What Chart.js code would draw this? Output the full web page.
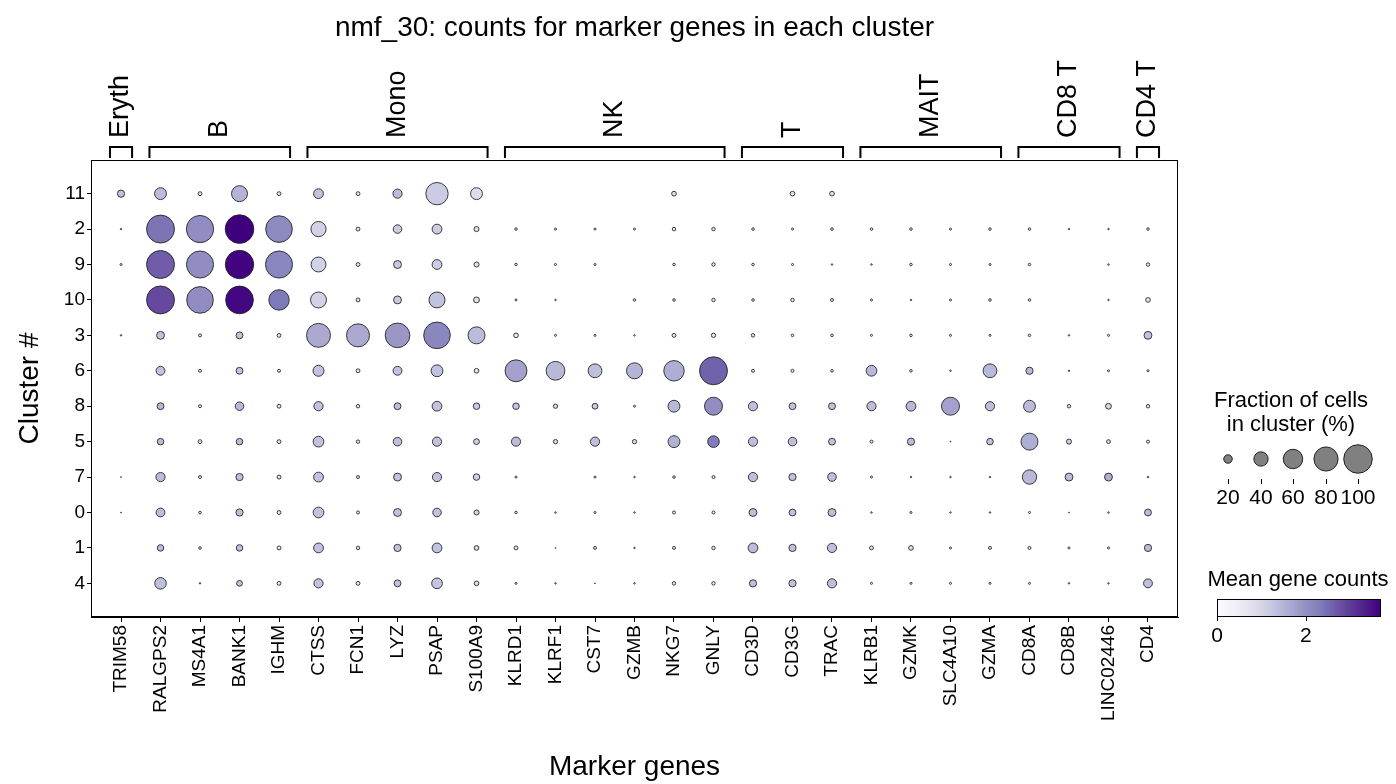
<!DOCTYPE html>
<html>
<head>
<meta charset="utf-8">
<script src="https://cdn.jsdelivr.net/npm/chart.js@4.4.1/dist/chart.umd.min.js"></script>
<style>
  body { margin: 0; background: #fff; }
  canvas { display: block; }
</style>
</head>
<body>
<canvas id="dotplot" width="1396" height="784"></canvas>
<script>
const genes = ['TRIM58', 'RALGPS2', 'MS4A1', 'BANK1', 'IGHM', 'CTSS', 'FCN1', 'LYZ', 'PSAP', 'S100A9',
    'KLRD1', 'KLRF1', 'CST7', 'GZMB', 'NKG7', 'GNLY', 'CD3D', 'CD3G', 'TRAC', 'KLRB1', 'GZMK',
    'SLC4A10', 'GZMA', 'CD8A', 'CD8B', 'LINC02446', 'CD4'];
const clusters = ['11', '2', '9', '10', '3', '6', '8', '5', '7', '0', '1', '4'];

// cell type groups shown as brackets above the genes: [label, first gene, last gene]
const groupNames = ['Eryth', 'B', 'Mono', 'NK', 'T', 'MAIT', 'CD8 T', 'CD4 T'];
const groupStart = [0, 1, 5, 10, 16, 19, 23, 26];
const groupEnd = [0, 4, 9, 15, 18, 22, 25, 26];

// fraction of cells (%) expressing each gene, one row per cluster (same order as clusters)
const fracPct = [
    [16, 31, 7, 46, 7, 24, 7, 22, 72, 31, 0, 0, 0, 0, 9, 0, 0, 9, 9, 0, 0, 0, 0, 0, 0, 0, 0],
    [2, 97, 94, 100, 91, 43, 7, 20, 24, 10, 4, 3, 3, 3, 6, 6, 4, 3, 4, 4, 4, 3, 4, 4, 2, 2, 4],
    [3, 97, 93, 99, 93, 42, 7, 18, 24, 10, 4, 3, 3, 0, 4, 6, 4, 3, 2, 2, 4, 3, 3, 4, 0, 2, 6],
    [0, 97, 91, 96, 64, 46, 7, 18, 46, 12, 3, 2, 0, 4, 4, 6, 4, 6, 5, 3, 2, 3, 4, 4, 0, 2, 9],
    [2, 18, 5, 15, 7, 79, 75, 82, 91, 50, 9, 3, 3, 2, 7, 8, 6, 4, 4, 3, 4, 3, 3, 4, 2, 3, 18],
    [0, 21, 5, 15, 5, 28, 7, 21, 31, 9, 70, 57, 38, 46, 64, 97, 5, 5, 4, 27, 4, 2, 38, 16, 2, 3, 3],
    [0, 15, 5, 20, 7, 22, 6, 15, 24, 14, 14, 8, 12, 3, 31, 54, 22, 15, 15, 22, 24, 54, 22, 31, 6, 12, 6],
    [0, 14, 7, 14, 7, 27, 6, 20, 22, 12, 22, 8, 22, 8, 31, 30, 22, 20, 15, 5, 16, 1, 14, 50, 10, 7, 5],
    [1, 22, 5, 16, 7, 24, 5, 18, 22, 14, 3, 0, 3, 2, 4, 5, 22, 16, 20, 3, 2, 2, 2, 40, 18, 18, 2],
    [1, 21, 4, 16, 7, 27, 5, 18, 20, 10, 4, 2, 3, 2, 5, 5, 18, 15, 18, 2, 3, 2, 2, 3, 1, 2, 15],
    [0, 14, 4, 14, 7, 24, 6, 16, 24, 9, 7, 1, 5, 2, 5, 6, 24, 16, 22, 7, 9, 3, 5, 5, 3, 3, 16],
    [0, 30, 2, 12, 7, 22, 7, 15, 27, 9, 3, 2, 1, 2, 6, 6, 16, 16, 22, 3, 3, 3, 3, 3, 2, 2, 21]
];

// mean gene counts, same layout as fracPct
const meanCounts = [
    [1.3, 1.4, 0.6, 1.5, 0.6, 1.3, 0.6, 1.4, 1.15, 0.85, 0, 0, 0, 0, 0.7, 0, 0, 0.7, 0.7, 0, 0, 0, 0, 0, 0, 0, 0],
    [0.3, 2.4, 2.05, 3.69, 2.1, 1.05, 0.6, 1.2, 1.15, 0.8, 0.4, 0.4, 0.4, 0.4, 0.5, 0.5, 0.4, 0.4, 0.4, 0.4, 0.4, 0.4, 0.4, 0.4, 0.3, 0.3, 0.4],
    [0.3, 2.65, 2.05, 3.65, 2.15, 1.05, 0.6, 1.2, 1.15, 0.8, 0.4, 0.4, 0.4, 0, 0.5, 0.5, 0.4, 0.4, 0.3, 0.3, 0.4, 0.4, 0.4, 0.4, 0, 0.3, 0.5],
    [0, 2.85, 2.05, 3.6, 2.35, 1.05, 0.6, 1.2, 1.3, 0.8, 0.4, 0.3, 0, 0.4, 0.4, 0.5, 0.4, 0.5, 0.5, 0.3, 0.3, 0.4, 0.4, 0.4, 0, 0.3, 0.6],
    [0.3, 1.3, 0.5, 1.3, 0.6, 1.65, 1.65, 1.9, 2.15, 1.4, 0.6, 0.4, 0.4, 0.3, 0.6, 0.6, 0.5, 0.4, 0.4, 0.3, 0.4, 0.4, 0.3, 0.4, 0.3, 0.3, 1.3],
    [0, 1.3, 0.5, 1.3, 0.5, 1.3, 0.6, 1.3, 1.3, 0.7, 1.75, 1.45, 1.35, 1.5, 1.6, 2.6, 0.5, 0.5, 0.4, 1.45, 0.3, 0.3, 1.45, 1.45, 0.3, 0.3, 0.3],
    [0, 1.45, 0.5, 1.45, 0.6, 1.3, 0.5, 1.35, 1.3, 1.2, 1.3, 0.9, 1.2, 0.4, 1.45, 2.05, 1.35, 1.3, 1.3, 1.35, 1.45, 1.75, 1.35, 1.4, 0.5, 1.0, 0.5],
    [0, 1.4, 0.6, 1.4, 0.6, 1.3, 0.5, 1.35, 1.3, 1.1, 1.4, 0.9, 1.35, 0.9, 1.55, 2.3, 1.35, 1.35, 1.3, 0.6, 1.4, 0.2, 1.3, 1.6, 1.1, 0.8, 0.5],
    [0.2, 1.4, 0.5, 1.35, 0.6, 1.3, 0.5, 1.3, 1.3, 1.1, 0.3, 0, 0.3, 0.3, 0.4, 0.5, 1.35, 1.3, 1.35, 0.3, 0.3, 0.3, 0.3, 1.45, 1.4, 1.6, 0.3],
    [0.2, 1.4, 0.5, 1.35, 0.6, 1.3, 0.5, 1.3, 1.3, 1.0, 0.4, 0.3, 0.3, 0.3, 0.5, 0.5, 1.35, 1.3, 1.35, 0.3, 0.3, 0.3, 0.3, 0.3, 0.2, 0.3, 1.4],
    [0, 1.4, 0.5, 1.35, 0.6, 1.3, 0.5, 1.3, 1.3, 0.9, 0.6, 0.2, 0.5, 0.3, 0.5, 0.5, 1.4, 1.3, 1.35, 0.6, 0.8, 0.4, 0.5, 0.5, 0.3, 0.3, 1.4],
    [0, 1.35, 0.3, 1.3, 0.6, 1.3, 0.6, 1.3, 1.25, 0.9, 0.3, 0.3, 0.2, 0.3, 0.5, 0.5, 1.35, 1.3, 1.35, 0.3, 0.3, 0.3, 0.3, 0.3, 0.3, 0.3, 1.35]
];

const sizeLegendPct = [20, 40, 60, 80, 100];
const colorTicks = [0, 2];
const colorMax = 3.69;

const FONT = '"Liberation Sans", Arial, sans-serif';
const TITLE = 'nmf_30: counts for marker genes in each cluster';

// matplotlib "Purples"
const purples = ['#fcfbfd', '#efedf5', '#dadaeb', '#bcbddc', '#9e9ac8', '#807dba', '#6a51a3', '#54278f', '#3f007d'];

function hexToRgb(h) {
    return [parseInt(h.slice(1, 3), 16), parseInt(h.slice(3, 5), 16), parseInt(h.slice(5, 7), 16)];
}

function purpleAt(t) {
    t = Math.max(0, Math.min(1, t));
    const pos = t * (purples.length - 1);
    const i = Math.min(Math.floor(pos), purples.length - 2);
    const f = pos - i;
    const a = hexToRgb(purples[i]), b = hexToRgb(purples[i + 1]);
    const c = a.map((v, k) => Math.round(v + (b[k] - v) * f));
    return 'rgb(' + c.join(',') + ')';
}

// dot radius in px for a given fraction (%), area grows with frac^1.5
const MAX_RADIUS = 14.3;
function dotRadius(pct) {
    return MAX_RADIUS * Math.pow(pct / 100, 0.75);
}

const points = [];
clusters.forEach((c, r) => {
    genes.forEach((g, i) => {
        if (fracPct[r][i] > 0) {
            points.push({ x: i, y: r, frac: fracPct[r][i], mean: meanCounts[r][i] });
        }
    });
});

const overlay = {
    id: 'overlay',
    afterDraw(chart) {
        const ctx = chart.ctx;
        const area = chart.chartArea;
        const xs = chart.scales.x;
        ctx.save();
        ctx.fillStyle = '#000';

        // title, centred over the plot
        ctx.font = '28px ' + FONT;
        ctx.textAlign = 'center';
        ctx.textBaseline = 'middle';
        ctx.fillText(TITLE, (area.left + area.right) / 2, 28);

        // frame round the plot
        ctx.strokeStyle = '#000';
        ctx.lineWidth = 1;
        ctx.strokeRect(area.left + 0.5, area.top + 0.5, area.right - area.left - 1, area.bottom - area.top - 1);

        // group brackets with rotated labels
        ctx.lineWidth = 2;
        ctx.font = '27px ' + FONT;
        groupNames.forEach((name, k) => {
            const x1 = xs.getPixelForValue(groupStart[k] - 0.28);
            const x2 = xs.getPixelForValue(groupEnd[k] + 0.28);
            const yTop = 147, yBot = 158;
            ctx.beginPath();
            ctx.moveTo(x1, yBot);
            ctx.lineTo(x1, yTop);
            ctx.lineTo(x2, yTop);
            ctx.lineTo(x2, yBot);
            ctx.stroke();
            ctx.save();
            ctx.translate((x1 + x2) / 2, 138);
            ctx.rotate(-Math.PI / 2);
            ctx.textAlign = 'left';
            ctx.textBaseline = 'middle';
            ctx.fillText(name, 0, 0);
            ctx.restore();
        });

        // size legend
        ctx.font = '22px ' + FONT;
        ctx.textAlign = 'center';
        ctx.textBaseline = 'middle';
        ctx.fillText('Fraction of cells', 1291, 401);
        ctx.fillText('in cluster (%)', 1291, 425);
        const legX = [1228, 1261, 1293, 1326, 1358];
        ctx.lineWidth = 1;
        ctx.font = '21px ' + FONT;
        sizeLegendPct.forEach((p, k) => {
            ctx.beginPath();
            ctx.arc(legX[k], 459, dotRadius(p), 0, Math.PI * 2);
            ctx.fillStyle = '#808080';
            ctx.fill();
            ctx.strokeStyle = 'rgba(0,0,0,0.8)';
            ctx.stroke();
            ctx.beginPath();
            ctx.moveTo(legX[k] + 0.5, 479);
            ctx.lineTo(legX[k] + 0.5, 484);
            ctx.strokeStyle = '#000';
            ctx.stroke();
            ctx.fillStyle = '#000';
            ctx.fillText(String(p), legX[k], 498);
        });

        // colour bar
        ctx.font = '22px ' + FONT;
        ctx.fillText('Mean gene counts', 1298, 580);
        const cbL = 1217, cbR = 1381, cbT = 599, cbB = 616;
        const grad = ctx.createLinearGradient(cbL, 0, cbR, 0);
        purples.forEach((c, k) => grad.addColorStop(k / (purples.length - 1), c));
        ctx.fillStyle = grad;
        ctx.fillRect(cbL, cbT, cbR - cbL, cbB - cbT);
        ctx.strokeStyle = '#000';
        ctx.strokeRect(cbL + 0.5, cbT + 0.5, cbR - cbL - 1, cbB - cbT);
        ctx.fillStyle = '#000';
        ctx.font = '21px ' + FONT;
        colorTicks.forEach(v => {
            const x = cbL + (cbR - cbL) * v / colorMax;
            ctx.beginPath();
            ctx.moveTo(Math.round(x) + 0.5, cbB);
            ctx.lineTo(Math.round(x) + 0.5, cbB + 5);
            ctx.stroke();
            ctx.fillText(String(v), x, cbB + 20);
        });
        ctx.restore();
    }
};

new Chart(document.getElementById('dotplot'), {
    type: 'scatter',
    data: {
        datasets: [{
            data: points,
            pointRadius: ctx => dotRadius(ctx.raw.frac),
            pointHoverRadius: ctx => dotRadius(ctx.raw.frac),
            backgroundColor: ctx => purpleAt(ctx.raw.mean / colorMax),
            borderColor: 'rgba(30,30,30,0.85)',
            borderWidth: 1
        }]
    },
    options: {
        responsive: false,
        animation: false,
        layout: { padding: { left: 0, right: 218, top: 160, bottom: 0 } },
        plugins: {
            legend: { display: false },
            tooltip: { enabled: false }
        },
        scales: {
            x: {
                type: 'linear',
                position: 'bottom',
                min: -0.76,
                max: 26.76,
                afterBuildTicks: s => { s.ticks = genes.map((g, i) => ({ value: i })); },
                afterFit: s => { s.height = 167; },
                ticks: {
                    callback: v => genes[v],
                    autoSkip: false,
                    maxRotation: 90,
                    minRotation: 90,
                    color: '#000',
                    padding: 3,
                    font: { family: FONT, size: 19 }
                },
                grid: { drawOnChartArea: false, color: '#000', tickLength: 5 },
                border: { color: '#000' },
                title: {
                    display: true,
                    text: 'Marker genes',
                    color: '#000',
                    font: { family: FONT, size: 28 },
                    padding: { top: 0, bottom: 0 }
                }
            },
            y: {
                type: 'linear',
                reverse: true,
                min: -0.95,
                max: 11.95,
                afterBuildTicks: s => { s.ticks = clusters.map((c, i) => ({ value: i })); },
                afterFit: s => { s.width = 91; },
                ticks: {
                    callback: v => clusters[v],
                    autoSkip: false,
                    color: '#000',
                    padding: 2,
                    font: { family: FONT, size: 19 }
                },
                grid: { drawOnChartArea: false, color: '#000', tickLength: 4 },
                border: { color: '#000' },
                title: {
                    display: true,
                    text: 'Cluster #',
                    color: '#000',
                    font: { family: FONT, size: 28 },
                    padding: { top: 13, bottom: 0 }
                }
            }
        }
    },
    plugins: [overlay]
});
</script>
</body>
</html>
